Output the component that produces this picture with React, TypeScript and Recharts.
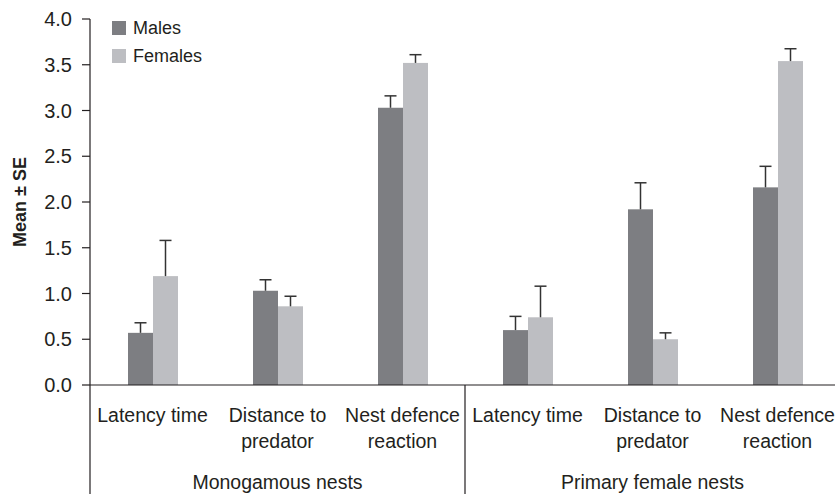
import { BarChart, Bar, XAxis, YAxis, Legend } from 'recharts'

// category labels, "\n" marks where the reference breaks the line
const categories = [
  'Latency time',
  'Distance to\npredator',
  'Nest defence\nreaction',
  'Latency time',
  'Distance to\npredator',
  'Nest defence\nreaction',
]
const nestTypes = ['Monogamous nests', 'Primary female nests']
const perNestType = 3

const malesMean = [0.57, 1.03, 3.03, 0.6, 1.92, 2.16]
const malesSE = [0.11, 0.12, 0.13, 0.15, 0.29, 0.23]
const femalesMean = [1.19, 0.86, 3.52, 0.74, 0.5, 3.54]
const femalesSE = [0.39, 0.11, 0.09, 0.34, 0.07, 0.135]

const yTicks = [0, 0.5, 1, 1.5, 2, 2.5, 3, 3.5, 4]

const MALE = '#7d7e82'
const FEMALE = '#bdbec2'
const INK = '#231f20'
const FONT = '"Liberation Sans", Arial, sans-serif'

const W = 840
const H = 494
const MARGIN = { top: 19, right: 0, left: 0, bottom: 0 }
const Y_WIDTH = 90
const X_HEIGHT = 109
const band = (W - Y_WIDTH - MARGIN.left - MARGIN.right) / categories.length

const data = categories.map((c, i) => ({
  id: i,
  males: malesMean[i],
  malesSE: malesSE[i],
  females: femalesMean[i],
  femalesSE: femalesSE[i],
}))

// bar + upward-only error whisker
const barWithError = (meanKey: string, seKey: string, color: string) => (props: any) => {
  const { x, y, width, height, payload } = props
  const mean = payload[meanKey]
  const se = payload[seKey]
  const pxPerUnit = mean ? height / mean : 0
  const top = y - se * pxPerUnit
  const cx = x + width / 2
  return (
    <g>
      <rect x={x} y={y} width={width} height={height} fill={color} />
      <line x1={cx} x2={cx} y1={y} y2={top} stroke="#333" strokeWidth={1.5} />
      <line x1={cx - 6} x2={cx + 6} y1={top} y2={top} stroke="#333" strokeWidth={1.5} />
    </g>
  )
}

const CategoryTick = ({ x, y, payload }: any) => {
  const i = payload.value
  const lines = categories[i].split('\n')
  const pos = i % perNestType
  return (
    <g>
      {lines.map((line, k) => (
        <text key={k} x={x} y={y + 37 + k * 26} textAnchor="middle" fontSize={19.5} fontFamily={FONT} fill={INK}>
          {line}
        </text>
      ))}
      {pos === Math.floor(perNestType / 2) && (
        <text x={x} y={y + 104} textAnchor="middle" fontSize={19.5} fontFamily={FONT} fill={INK}>
          {nestTypes[Math.floor(i / perNestType)]}
        </text>
      )}
      {pos === 0 && (
        <line x1={x - band / 2} x2={x - band / 2} y1={y} y2={y + X_HEIGHT} stroke={INK} strokeWidth={1.2} />
      )}
    </g>
  )
}

const YLabel = ({ viewBox }: any) => {
  const cx = 20
  const cy = viewBox.y + viewBox.height / 2
  return (
    <text
      x={cx}
      y={cy}
      transform={`rotate(-90 ${cx} ${cy})`}
      textAnchor="middle"
      dominantBaseline="central"
      fontSize={18}
      fontWeight="bold"
      fontFamily={FONT}
      fill={INK}
    >
      Mean ± SE
    </text>
  )
}

const LegendContent = () => (
  <div style={{ fontFamily: FONT, fontSize: 18, color: INK }}>
    {[
      { name: 'Males', color: MALE },
      { name: 'Females', color: FEMALE },
    ].map((s) => (
      <div key={s.name} style={{ display: 'flex', alignItems: 'center', height: 28 }}>
        <span style={{ width: 14, height: 14, background: s.color, marginRight: 7, display: 'inline-block' }} />
        {s.name}
      </div>
    ))}
  </div>
)

export default function App() {
  return (
    <div style={{ position: 'absolute', left: 0, top: 0, width: 835, height: H, overflow: 'hidden', background: '#fff' }}>
      <BarChart width={W} height={H} data={data} margin={MARGIN} barGap={0}>
        <XAxis
          dataKey="id"
          height={X_HEIGHT}
          tickLine={false}
          tickSize={0}
          tickMargin={0}
          axisLine={{ stroke: INK, strokeWidth: 1.2 }}
          tick={<CategoryTick />}
          interval={0}
        />
        <YAxis
          width={Y_WIDTH}
          domain={[0, 4]}
          ticks={yTicks}
          tickFormatter={(v: number) => v.toFixed(1)}
          tickSize={8}
          tickMargin={10}
          axisLine={{ stroke: INK, strokeWidth: 1.2 }}
          tickLine={{ stroke: INK, strokeWidth: 1.2 }}
          tick={{ fill: INK, fontSize: 20, fontFamily: FONT }}
          label={<YLabel />}
        />
        <Legend
          layout="vertical"
          align="center"
          verticalAlign="middle"
          content={<LegendContent />}
          wrapperStyle={{ left: 112, top: 14, width: 'auto', height: 'auto' }}
        />
        <Bar dataKey="males" barSize={25} isAnimationActive={false} shape={barWithError('males', 'malesSE', MALE)} />
        <Bar dataKey="females" barSize={25} isAnimationActive={false} shape={barWithError('females', 'femalesSE', FEMALE)} />
      </BarChart>
    </div>
  )
}
